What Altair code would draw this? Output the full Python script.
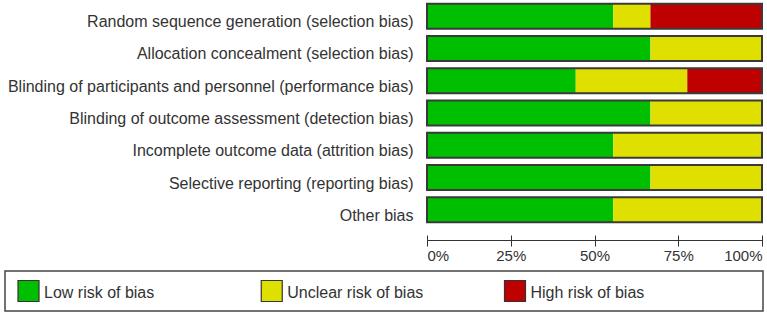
import altair as alt
import pandas as pd

categories = [
    "Random sequence generation (selection bias)",
    "Allocation concealment (selection bias)",
    "Blinding of participants and personnel (performance bias)",
    "Blinding of outcome assessment (detection bias)",
    "Incomplete outcome data (attrition bias)",
    "Selective reporting (reporting bias)",
    "Other bias",
]
levels = ["Low risk of bias", "Unclear risk of bias", "High risk of bias"]
colors = ["#00bf00", "#e0e000", "#bf0000"]
low = [55.6, 66.7, 44.4, 66.7, 55.6, 66.7, 55.6]
unclear = [11.1, 33.3, 33.3, 33.3, 44.4, 33.3, 44.4]
high = [33.3, 0.0, 22.3, 0.0, 0.0, 0.0, 0.0]
tick_values = [0, 25, 50, 75, 100]

rows = []
for i, cat in enumerate(categories):
    for rank, (lvl, vals) in enumerate(zip(levels, [low, unclear, high])):
        rows.append({"category": cat, "level": lvl, "value": vals[i], "rank": rank})
df = pd.DataFrame(rows)

x_scale = alt.Scale(domain=[0, 100], range=[422, 757], nice=False, zero=True)
color_scale = alt.Scale(domain=levels, range=colors)

y_enc = alt.Y(
    "category:N",
    sort=categories,
    title=None,
    scale=alt.Scale(paddingInner=0.226, paddingOuter=0.113),
    axis=alt.Axis(
        orient="left", offset=-422, domain=False, ticks=False,
        labelPadding=14, labelLimit=600, labelFontSize=16,
        labelColor="#333333", labelOffset=6,
    ),
)

bars = alt.Chart(df).mark_bar().encode(
    x=alt.X(
        "value:Q", stack="zero", scale=x_scale, title=None,
        axis=alt.Axis(
            orient="bottom", offset=9, domain=False, tickSize=11,
            tickColor="#333333", tickWidth=1, values=tick_values,
            labelExpr="datum.value + '%'", labelFlush=True, labelPadding=2,
            labelFontSize=15, labelColor="#333333", grid=False,
        ),
    ),
    y=y_enc,
    color=alt.Color("level:N", scale=color_scale, legend=None),
    order=alt.Order("rank:Q"),
)

outline = alt.Chart(df).mark_bar(fillOpacity=0, stroke="#3a3a3a", strokeWidth=2).encode(
    x=alt.X(
        "sum(value):Q", scale=x_scale, title=None,
        axis=alt.Axis(
            orient="bottom", offset=14, domain=True, domainColor="#333333",
            domainWidth=1, ticks=False, labels=False, grid=False,
        ),
    ),
    y=y_enc,
)

top = alt.layer(bars, outline).resolve_axis(x="independent").properties(width=757, height=226)

legend_df = pd.DataFrame({"level": levels})
leg_x = alt.X(
    "level:N", sort=levels, axis=None,
    scale=alt.Scale(type="point", range=[23.5, 510], padding=0),
)
squares = alt.Chart(legend_df).mark_square(size=441, stroke="#333333", strokeWidth=1.2, opacity=1).encode(
    x=leg_x,
    color=alt.Color("level:N", scale=color_scale, legend=None),
)
labels = alt.Chart(legend_df).mark_text(
    align="left", baseline="middle", dx=15.5, dy=2, fontSize=16, color="#333333"
).encode(x=leg_x, text="level:N")

legend_chart = alt.layer(squares, labels).properties(
    width=758, height=40,
    view=alt.ViewBackground(stroke="#444444", strokeWidth=1.5),
)

chart = (
    alt.vconcat(top, legend_chart, spacing=7)
    .resolve_scale(x="independent", y="independent")
    .properties(padding={"left": 4, "top": 0, "right": 0, "bottom": 0})
    .configure(font="Liberation Sans")
    .configure_view(stroke=None)
)

chart.save("out.html", embed_options={"renderer": "svg", "actions": False})
